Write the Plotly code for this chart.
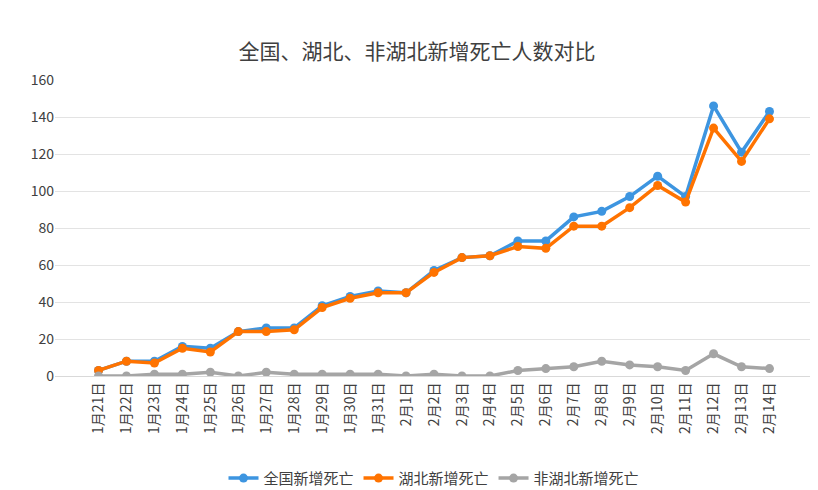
import plotly.graph_objects as go

dates = ["1月21日","1月22日","1月23日","1月24日","1月25日","1月26日","1月27日","1月28日","1月29日","1月30日","1月31日",
         "2月1日","2月2日","2月3日","2月4日","2月5日","2月6日","2月7日","2月8日","2月9日","2月10日","2月11日","2月12日","2月13日","2月14日"]
national = [3,8,8,16,15,24,26,26,38,43,46,45,57,64,65,73,73,86,89,97,108,97,146,121,143]
hubei = [3,8,7,15,13,24,24,25,37,42,45,45,56,64,65,70,69,81,81,91,103,94,134,116,139]
non_hubei = [0,0,1,1,2,0,2,1,1,1,1,0,1,0,0,3,4,5,8,6,5,3,12,5,4]

fig = go.Figure()
for name, vals, color in [("全国新增死亡", national, "#3d95e0"),
                          ("湖北新增死亡", hubei, "#ff7300"),
                          ("非湖北新增死亡", non_hubei, "#a5a5a5")]:
    fig.add_trace(go.Scatter(x=dates, y=vals, name=name, mode="lines+markers",
                             line=dict(color=color, width=3.5), marker=dict(size=9, color=color)))

fig.update_layout(
    width=818, height=490, paper_bgcolor="white", plot_bgcolor="white",
    font=dict(family="Noto Sans CJK SC", color="#595959", size=14),
    title=dict(text="全国、湖北、非湖北新增死亡人数对比", x=0.5, y=0.925, xanchor="center",
               font=dict(size=21, color="#404040")),
    margin=dict(l=47, r=13, t=72, b=122, autoexpand=False),
    xaxis=dict(tickangle=-90, showgrid=False, showline=True, linecolor="#d9d9d9", ticks="",
               automargin=False, tickfont=dict(size=14, color="#404040")),
    yaxis=dict(range=[0, 160], dtick=20, gridcolor="#e3e3e3", showline=False, zeroline=False,
               automargin=False, tickfont=dict(size=14, color="#404040")),
    legend=dict(orientation="h", x=0.5, xanchor="center", y=-0.29, yanchor="top",
                font=dict(size=15, color="#404040")),
)
fig.write_html("out.html")
